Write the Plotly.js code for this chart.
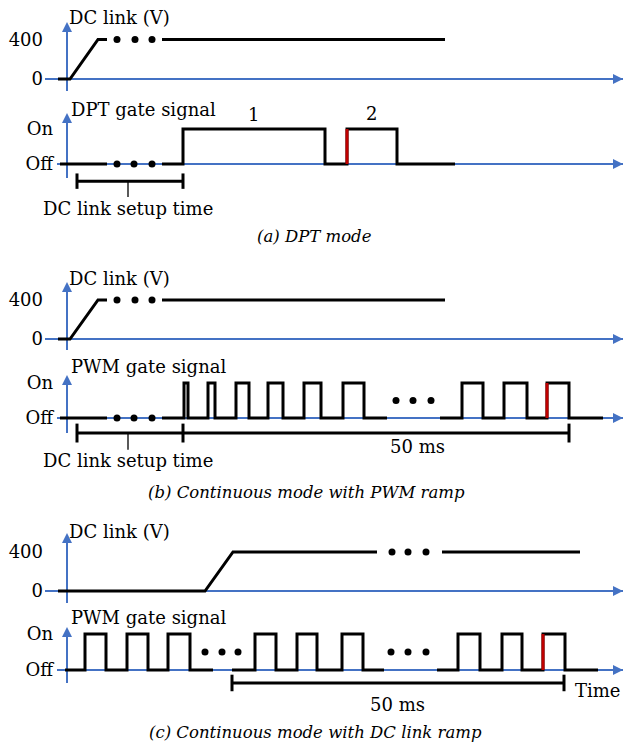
<!DOCTYPE html>
<html>
<head>
<meta charset="utf-8">
<script src="https://cdn.plot.ly/plotly-3.0.1.min.js"></script>
<style>
  html, body { margin: 0; padding: 0; background: #fff; }
  #chart { width: 625px; height: 747px; }
</style>
</head>
<body>
<div id="chart"></div>
<script>
// -------------------------------------------------------------------------
// Data — time in arbitrary units (0 = vertical axis), gate 0 = Off, 1 = On
// -------------------------------------------------------------------------

// DC link voltage for (a) and (b): quick ramp then hold at 400 V
const dcFastT = [-9, 3, 31, 40, null, 95, 378];
const dcFastV = [0, 0, 400, 400, null, 400, 400];
const dcFastDotsT = [50, 68, 85];

// DC link voltage for (c): late ramp
const dcSlowT = [-9, 138, 166, 310, null, 375, 513];
const dcSlowV = [0, 0, 400, 400, null, 400, 400];
const dcSlowDotsT = [325, 341, 359];

// (a) DPT gate: edge times and the level reached at each edge
const dptT = [-7, 40, null, 95, 116, 258, 280, 330, 388];
const dptS = [0, 0, null, 0, 1, 0, 1, 0, 0];
const dptDotsT = [50, 67, 85];
const dptRedT = 280;

// (b) PWM gate with PWM ramp
const pwmBT = [-7, 40, null, 95, 117, 121, 141, 148, 169, 182, 201, 216, 237, 254,
               276, 297, 320, null, 373, 395, 416, 437, 460, 480, 502, 536];
const pwmBS = [0, 0, null, 0, 1, 0, 1, 0, 1, 0, 1, 0, 1, 0,
               1, 0, 0, null, 0, 1, 0, 1, 0, 1, 0, 0];
const pwmBDotsOffT = [50, 67, 85];
const pwmBDotsMidT = [329, 346, 364];
const pwmBRedT = 480;

// (c) PWM gate with DC link ramp
const pwmCT = [-2, 18, 39, 60, 81, 101, 123, 146, null, 165, 188, 209, 230, 250,
               275, 296, 317, null, 370, 391, 413, 435, 455, 476, 498, 531];
const pwmCS = [0, 1, 0, 1, 0, 1, 0, 0, null, 0, 1, 0, 1, 0,
               1, 0, 0, null, 0, 1, 0, 1, 0, 1, 0, 0];
const pwmCDotsT1 = [138, 155, 171];
const pwmCDotsT2 = [324, 341, 359];
const pwmCRedT = 476;

// time brackets
const setupA = [10, 116];
const setupB = [10, 116, 502];
const windowC = [165, 497];
const setupMidT = 61;

// -------------------------------------------------------------------------
// Style / geometry
// -------------------------------------------------------------------------
const W = 625, H = 747;
const X0 = 67;          // pixel x of the vertical axes
const RIGHT = 623;      // pixel x of the horizontal arrow tips
const BLUE = "#4472C4";
const RED = "#C00000";
const SERIF = "DejaVu Serif";
const FS = 18;          // main label size
const CAP = 16.5;       // caption size

// one entry per subplot: zero line, px per unit, domain top/bottom, axis tail, left edge
const PANELS = [
  { kind: "dc",   zero: 79,  ppu: 39.5 / 400, top: 22,  bottom: 92,  tail: 91,  left: 45 },
  { kind: "gate", zero: 164, ppu: 35,         top: 113, bottom: 200, tail: 178, left: 57 },
  { kind: "dc",   zero: 339, ppu: 39 / 400,   top: 282, bottom: 351, tail: 350, left: 45 },
  { kind: "gate", zero: 418, ppu: 35,         top: 375, bottom: 453, tail: 433, left: 57 },
  { kind: "dc",   zero: 591, ppu: 39 / 400,   top: 533, bottom: 604, tail: 603, left: 45 },
  { kind: "gate", zero: 670, ppu: 36,         top: 627, bottom: 696, tail: 683, left: 57 },
];

const layout = {
  width: W, height: H,
  margin: { l: 0, r: 0, t: 0, b: 0, pad: 0 },
  paper_bgcolor: "#FFFFFF",
  plot_bgcolor: "rgba(0,0,0,0)",
  showlegend: false,
  font: { family: SERIF, size: FS, color: "#000000" },
  shapes: [],
  annotations: [],
};

PANELS.forEach((g, k) => {
  const i = k + 1;
  const sx = i === 1 ? "" : String(i);
  const xr = [g.left - X0, RIGHT - X0];
  const yr = [(g.zero - g.bottom) / g.ppu, (g.zero - g.top) / g.ppu];
  layout["xaxis" + sx] = {
    domain: [g.left / W, RIGHT / W], range: xr, anchor: "y" + sx,
    showgrid: false, zeroline: false, showticklabels: false, showline: false,
    ticks: "", fixedrange: true,
  };
  layout["yaxis" + sx] = {
    domain: [1 - g.bottom / H, 1 - g.top / H], range: yr, anchor: "x" + sx,
    showgrid: false, showline: false, ticks: "", fixedrange: true,
    zeroline: true, zerolinecolor: BLUE, zerolinewidth: 2,
    tickvals: g.kind === "dc" ? [0, 400] : [0, 1],
    ticktext: g.kind === "dc" ? ["0", "400"] : ["Off", "On"],
    tickfont: { family: SERIF, size: FS, color: "#000" },
    ticklabelstandoff: g.kind === "dc" ? 1 : 3,
  };
  // vertical axis line (under the traces)
  layout.shapes.push({
    type: "line", xref: "x" + sx, yref: "y" + sx, layer: "below",
    x0: 0, x1: 0, y0: (g.zero - g.tail) / g.ppu, y1: yr[1] - 4 / g.ppu,
    line: { color: BLUE, width: 2 },
  });
  // arrow heads
  const head = {
    xref: "x" + sx, yref: "y" + sx, text: "", showarrow: true,
    arrowhead: 2, arrowsize: 1, arrowwidth: 2, arrowcolor: BLUE, standoff: 0,
  };
  layout.annotations.push(Object.assign({}, head, { x: 0, y: yr[1] - 0.01 / g.ppu, ax: 0, ay: 10 }));
  layout.annotations.push(Object.assign({}, head, { x: xr[1] - 0.01, y: 0, ax: -10, ay: 0 }));
});

// -------------------------------------------------------------------------
// Traces
// -------------------------------------------------------------------------
function ax(i) {
  const sx = i === 1 ? "" : String(i);
  return { xaxis: "x" + sx, yaxis: "y" + sx };
}
function line(i, x, y, opts = {}) {
  return Object.assign({
    x, y, type: "scatter", mode: "lines", hoverinfo: "skip",
    line: { color: opts.color || "#000", width: opts.width || 3, shape: opts.shape || "linear" },
  }, ax(i));
}
function dots(i, x, level) {
  return Object.assign({
    x, y: x.map(() => level), type: "scatter", mode: "markers", hoverinfo: "skip",
    marker: { color: "#000", size: 7 }, cliponaxis: false,
  }, ax(i));
}
function redEdge(i, t) {
  return line(i, [t, t], [0, 1], { color: RED, width: 3 });
}
// bracket: horizontal bar at level, caps of half-height h at each time
function bracket(i, times, level, h) {
  const x = [times[0], times[times.length - 1]];
  const y = [level, level];
  times.forEach((t) => { x.push(null, t, t); y.push(null, level - h, level + h); });
  return line(i, x, y, { width: 3 });
}

const traces = [
  // (a)
  line(1, dcFastT, dcFastV), dots(1, dcFastDotsT, 400),
  line(2, dptT, dptS, { shape: "hv" }), dots(2, dptDotsT, 0), redEdge(2, dptRedT),
  bracket(2, setupA, -0.49, 0.22),
  line(2, [setupMidT, setupMidT], [-0.49, -0.94], { width: 1.3 }),
  // (b)
  line(3, dcFastT, dcFastV), dots(3, dcFastDotsT, 400),
  line(4, pwmBT, pwmBS, { shape: "hv" }), dots(4, pwmBDotsOffT, 0), dots(4, pwmBDotsMidT, 0.5),
  redEdge(4, pwmBRedT),
  bracket(4, setupB, -0.43, 0.27),
  line(4, [setupMidT, setupMidT], [-0.43, -0.91], { width: 1.3 }),
  // (c)
  line(5, dcSlowT, dcSlowV), dots(5, dcSlowDotsT, 400),
  line(6, pwmCT, pwmCS, { shape: "hv" }), dots(6, pwmCDotsT1, 0.5), dots(6, pwmCDotsT2, 0.5),
  redEdge(6, pwmCRedT),
  bracket(6, windowC, -0.36, 0.23),
];

// -------------------------------------------------------------------------
// Labels (paper coordinates from pixel positions)
// -------------------------------------------------------------------------
function label(text, px, py, xanchor = "center", size = FS) {
  layout.annotations.push({
    xref: "paper", yref: "paper", x: px / W, y: 1 - py / H,
    xanchor, yanchor: "middle", showarrow: false, text,
    font: { family: SERIF, size, color: "#000" },
  });
}
label("DC link (V)", 67, 18, "left");
label("DPT gate signal", 69, 109, "left");
label("1", 253, 114);
label("2", 372, 113);
label("DC link setup time", 128, 208);
label("<i>(a) DPT mode</i>", 314, 237, "center", CAP);

label("DC link (V)", 67, 278, "left");
label("PWM gate signal", 69, 366, "left");
label("DC link setup time", 128, 460);
label("50 ms", 417, 446);
label("<i>(b) Continuous mode with PWM ramp</i>", 306, 492, "center", CAP);

label("DC link (V)", 67, 531, "left");
label("PWM gate signal", 69, 617, "left");
label("50 ms", 397, 704);
label("Time", 573, 690, "left");
label("<i>(c) Continuous mode with DC link ramp</i>", 315, 732, "center", CAP);

Plotly.newPlot("chart", traces, layout, { displayModeBar: false, staticPlot: true });
</script>
</body>
</html>
